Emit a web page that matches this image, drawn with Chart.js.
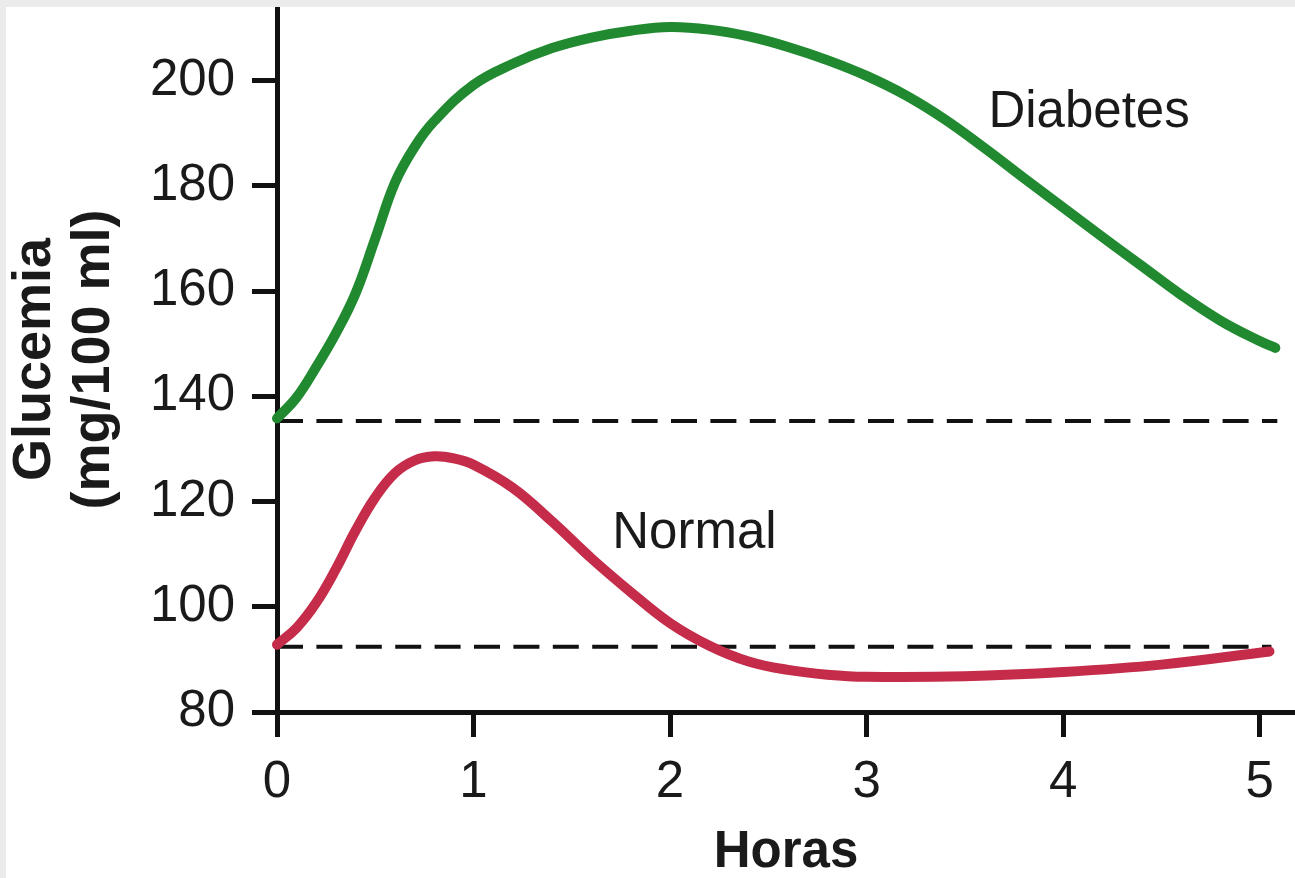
<!DOCTYPE html>
<html>
<head>
<meta charset="utf-8">
<title>Glucemia</title>
<script src="https://cdn.jsdelivr.net/npm/chart.js@4.4.1/dist/chart.umd.min.js"></script>
<style>
  html, body { margin: 0; padding: 0; background: #ebebeb; }
  #wrap { position: absolute; left: 6px; top: 7px; width: 1289px; height: 871px; background: #fff; }
</style>
</head>
<body>
<div id="wrap"><canvas id="chart"></canvas></div>
<script>
// Values (hours, mg/100 ml)
const diabetesHours = [0, 0.1, 0.2, 0.3, 0.4, 0.5, 0.6, 0.7, 0.8, 1.0, 1.2, 1.4, 1.6, 1.8, 2.0, 2.2, 2.4, 2.6, 2.8, 3.0, 3.2, 3.4, 3.6, 3.8, 4.0, 4.2, 4.4, 4.6, 4.8, 5.0, 5.08];
const diabetesGlucose = [135.8, 139.8, 145.6, 152, 159.6, 170, 180.6, 187.4, 192.3, 199.2, 203.2, 206.2, 208.2, 209.5, 210.2, 209.7, 208.4, 206.4, 203.9, 200.9, 197.2, 192.6, 187.2, 181.5, 175.9, 170.3, 164.8, 159.3, 154.4, 150.5, 149.2];

const normalHours = [0, 0.1, 0.2, 0.3, 0.4, 0.5, 0.6, 0.7, 0.8, 0.9, 1.0, 1.2, 1.4, 1.6, 1.8, 2.0, 2.2, 2.4, 2.6, 2.8, 3.0, 3.5, 4.0, 4.5, 5.05];
const normalGlucose = [92.8, 96, 100.8, 107.2, 114.5, 120.8, 125.4, 127.8, 128.6, 128.2, 127, 122.6, 116.2, 109.2, 102.8, 96.9, 92.6, 89.6, 88, 87.1, 86.7, 86.8, 87.6, 89, 91.5];

// fasting reference levels (dashed lines)
const baselineLevels = [135.3, 92.4];
const baselineEnds = [5.09, 5.06];

const yTicks = [80, 100, 120, 140, 160, 180, 200];
const xTicks = [0, 1, 2, 3, 4, 5];

const FONT = "'Liberation Sans', Arial, Helvetica, sans-serif";
Chart.defaults.font.family = FONT;
Chart.defaults.color = '#1a1a1a';

const toPoints = (xs, ys) => xs.map((x, i) => ({ x: x, y: ys[i] }));

// curve name labels, placed in data coords
const curveLabelPlugin = {
    id: 'curveLabels',
    afterDatasetsDraw(chart) {
        const { ctx, scales: { x, y } } = chart;
        const labels = [
            { text: 'Diabetes', at: [3.62, 191.1] },
            { text: 'Normal', at: [1.706, 111.1] }
        ];
        ctx.save();
        ctx.font = '51px ' + FONT;
        ctx.fillStyle = '#1a1a1a';
        ctx.textBaseline = 'alphabetic';
        labels.forEach(l => ctx.fillText(l.text, x.getPixelForValue(l.at[0]), y.getPixelForValue(l.at[1])));
        ctx.restore();
    }
};

const curve = (label, xs, ys, color) => ({
    label: label,
    data: toPoints(xs, ys),
    borderColor: color,
    borderWidth: 10,
    borderCapStyle: 'round',
    borderJoinStyle: 'round',
    pointRadius: 0,
    tension: 0.4,
    fill: false,
    clip: false,
    order: 1
});

const dashed = (level, end) => ({
    label: 'base ' + level,
    data: [{ x: 0, y: level }, { x: end, y: level }],
    borderColor: '#111',
    borderWidth: 4,
    borderDash: [26, 13.4],
    pointRadius: 0,
    fill: false,
    clip: false,
    order: 2
});

const ctx = document.getElementById('chart').getContext('2d');
new Chart(ctx, {
    type: 'line',
    data: {
        datasets: [
            curve('Diabetes', diabetesHours, diabetesGlucose, '#218a30'),
            curve('Normal', normalHours, normalGlucose, '#c42c4a'),
            ...baselineLevels.map((lv, i) => dashed(lv, baselineEnds[i]))
        ]
    },
    options: {
        responsive: true,
        maintainAspectRatio: false,
        animation: false,
        layout: { padding: 0 },
        plugins: { legend: { display: false }, tooltip: { enabled: false } },
        scales: {
            x: {
                type: 'linear',
                min: 0,
                max: 5.18,
                afterBuildTicks: s => { s.ticks = xTicks.map(v => ({ value: v })); },
                afterFit: s => { s.height = 166; s.paddingLeft = 0; s.paddingRight = 0; },
                ticks: { font: { size: 51 }, padding: 15, maxRotation: 0, color: '#1a1a1a' },
                grid: { drawOnChartArea: false, drawTicks: true, tickLength: 25, tickWidth: 5, tickColor: '#111' },
                border: { display: true, width: 5, color: '#111' },
                title: {
                    display: true,
                    text: 'Horas',
                    color: '#1a1a1a',
                    font: { size: 51, weight: 'bold', lineHeight: 1 },
                    padding: { top: 0, bottom: 0 }
                }
            },
            y: {
                type: 'linear',
                min: 80,
                max: 214,
                afterBuildTicks: s => { s.ticks = yTicks.map(v => ({ value: v })); },
                afterFit: s => { s.width = 271; s.paddingTop = 0; s.paddingBottom = 0; },
                ticks: { font: { size: 51 }, padding: 17, color: '#1a1a1a' },
                grid: { drawOnChartArea: false, drawTicks: true, tickLength: 25, tickWidth: 5, tickColor: '#111' },
                border: { display: true, width: 5, color: '#111' },
                title: {
                    display: true,
                    text: ['Glucemia', '(mg/100 ml)'],
                    color: '#1a1a1a',
                    font: { size: 54, weight: 'bold', lineHeight: 1.09 },
                    padding: { top: 0, bottom: 0 }
                }
            }
        }
    },
    plugins: [curveLabelPlugin]
});
</script>
</body>
</html>
